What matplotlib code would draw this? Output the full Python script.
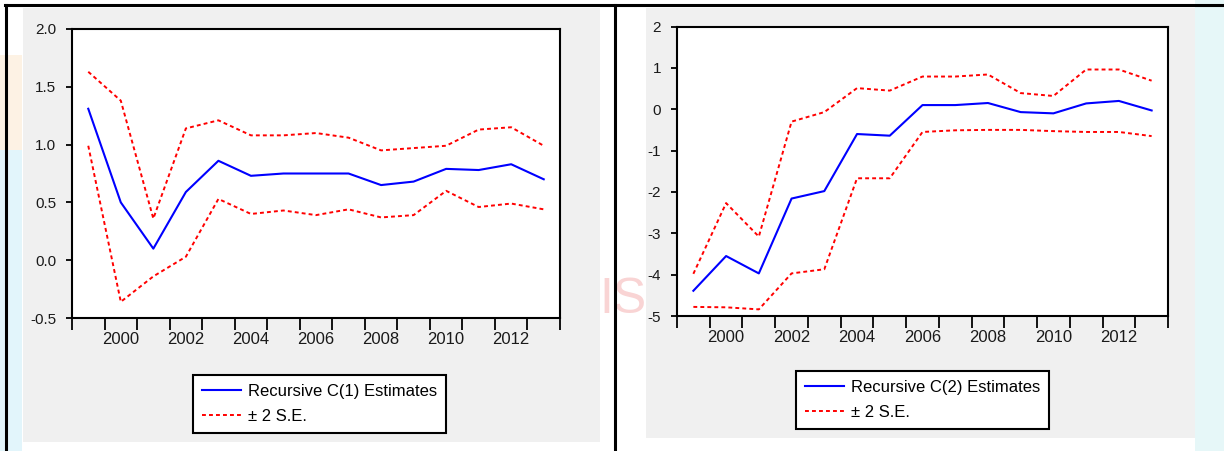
# recursive coefficient estimates C(1), C(2) with +/- 2 S.E. bands

import numpy as np
import matplotlib
matplotlib.use("Agg")
import matplotlib.pyplot as plt
from matplotlib.patches import Rectangle, Polygon
from matplotlib.lines import Line2D

plt.rcParams['font.family'] = ['Liberation Sans', 'DejaVu Sans']
plt.rcParams['axes.unicode_minus'] = False

years = np.arange(1999, 2014)
year_labels = ["2000", "2002", "2004", "2006", "2008", "2010", "2012"]

c1_est = [1.31, 0.50, 0.10, 0.59, 0.86, 0.73, 0.75, 0.75, 0.75, 0.65, 0.68, 0.79, 0.78, 0.83, 0.70]
c1_upper = [1.63, 1.38, 0.36, 1.14, 1.21, 1.08, 1.08, 1.10, 1.06, 0.95, 0.97, 0.99, 1.13, 1.15, 0.99]
c1_lower = [0.99, -0.36, -0.14, 0.03, 0.53, 0.40, 0.43, 0.39, 0.44, 0.37, 0.39, 0.60, 0.46, 0.49, 0.44]

c2_est = [-4.39, -3.55, -3.97, -2.16, -1.98, -0.60, -0.64, 0.10, 0.10, 0.15, -0.07, -0.10, 0.14, 0.20, -0.03]
c2_upper = [-3.98, -2.27, -3.08, -0.30, -0.07, 0.51, 0.45, 0.79, 0.79, 0.84, 0.39, 0.32, 0.96, 0.96, 0.69]
c2_lower = [-4.78, -4.79, -4.84, -3.97, -3.87, -1.67, -1.67, -0.55, -0.51, -0.50, -0.50, -0.53, -0.55, -0.55, -0.65]

W, H = 1224, 451
fig = plt.figure(figsize=(W / 100, H / 100), dpi=100)
fig.patch.set_facecolor("white")


def fx(px):
    return px / W


def fy(py):
    return 1 - py / H


def add_rect(x0, y0, x1, y1, color, z):
    fig.add_artist(Rectangle((fx(x0), fy(y1)), fx(x1 - x0), (y1 - y0) / H,
                             transform=fig.transFigure, facecolor=color,
                             edgecolor="none", zorder=z))


# faint background behind the panels
fig.add_artist(Polygon([(fx(0), fy(150)), (fx(22), fy(130)), (fx(22), fy(451)), (fx(0), fy(451))],
                       closed=True, transform=fig.transFigure, facecolor="#e2f5fb",
                       edgecolor="none", zorder=-10))
add_rect(0, 55, 22, 150, "#fdf2e4", -10)
fig.add_artist(Polygon([(fx(1195), fy(0)), (fx(1224), fy(0)), (fx(1224), fy(451)), (fx(1195), fy(451))],
                       closed=True, transform=fig.transFigure, facecolor="#e6f7f8",
                       edgecolor="none", zorder=-10))
fig.text(fx(623), fy(300), "IS", fontsize=36, color="#f9d4d4", ha="center", va="center",
         zorder=-9)

# grey panel backgrounds
add_rect(23, 8, 600, 442, "#f0f0f0", -5)
add_rect(646, 8, 1195, 438, "#f0f0f0", -5)

# outer frame lines
for xs, ys in [([5, 1224], [5, 5]), ([6, 6], [5, 451]), ([615, 615], [5, 451])]:
    fig.add_artist(Line2D([fx(x) for x in xs], [fy(y) for y in ys], transform=fig.transFigure,
                          color="black", lw=2.2, zorder=5))


def draw_panel(rect, est, upper, lower, yticks, ylabels, ylim, name, leg_xy):
    ax = fig.add_axes(rect)
    ax.set_facecolor("white")
    x = years + 0.5
    l1, = ax.plot(x, est, color="#0000ff", lw=1.5, label=name)
    l2, = ax.plot(x, upper, color="#ff0000", lw=1.4, ls=(0, (2, 1.6)), label="\u00b1 2 S.E.")
    ax.plot(x, lower, color="#ff0000", lw=1.4, ls=(0, (2, 1.6)))

    ax.set_xlim(1999, 2014)
    ax.set_ylim(*ylim)
    ax.set_xticks(np.arange(1999, 2015))
    ax.set_xticklabels([])
    ax.set_xticks(np.arange(2000, 2013, 2) + 0.5, minor=True)
    ax.set_xticklabels(year_labels, minor=True)
    ax.tick_params(axis="x", which="major", direction="out", length=8.5, width=1.3)
    ax.tick_params(axis="x", which="minor", length=0, pad=10, labelsize=12, labelcolor="#1a1a1a")
    ax.set_yticks(yticks)
    ax.set_yticklabels(ylabels)
    ax.tick_params(axis="y", direction="out", length=4.5, width=1.3, pad=7,
                   labelsize=11, labelcolor="#1a1a1a")
    for s in ax.spines.values():
        s.set_linewidth(1.5)
        s.set_color("black")

    leg = ax.legend(handles=[l1, l2], loc="upper left",
                    bbox_to_anchor=(fx(leg_xy[0]), fy(leg_xy[1])),
                    bbox_transform=fig.transFigure, borderaxespad=0,
                    fancybox=False, framealpha=1, edgecolor="black",
                    fontsize=12, handlelength=2.3, handletextpad=0.45,
                    labelspacing=0.6, borderpad=0.55)
    leg.get_frame().set_linewidth(1.5)
    return ax


draw_panel([fx(72), fy(318), (560 - 72) / W, (318 - 29) / H],
           c1_est, c1_upper, c1_lower,
           np.arange(-0.5, 2.01, 0.5), ["-0.5", "0.0", "0.5", "1.0", "1.5", "2.0"],
           (-0.5, 2.0), "Recursive C(1) Estimates", (193, 375))

draw_panel([fx(677), fy(316), (1168 - 677) / W, (316 - 26.5) / H],
           c2_est, c2_upper, c2_lower,
           np.arange(-5, 3), ["-5", "-4", "-3", "-2", "-1", "0", "1", "2"],
           (-5, 2), "Recursive C(2) Estimates", (796, 371))

fig.savefig("out.png", dpi=100)
